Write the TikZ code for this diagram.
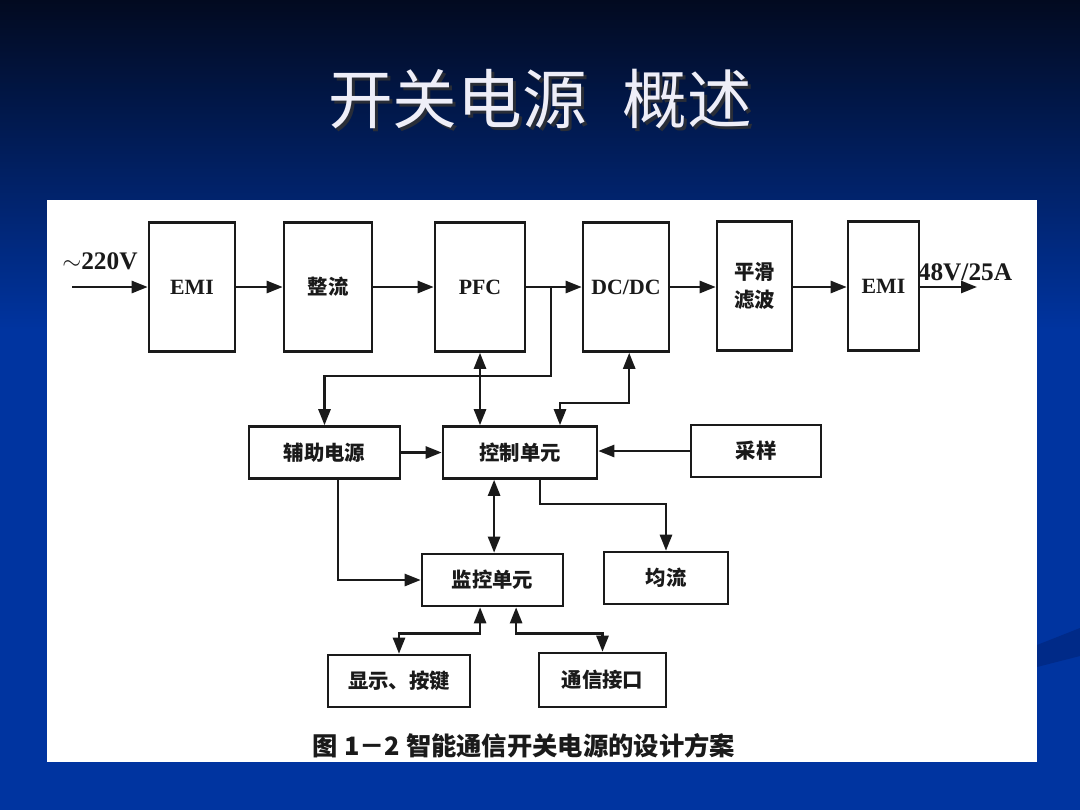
\documentclass[tikz,border=0pt]{standalone}
\usepackage{fontspec}
\setmainfont{Liberation Serif}
\newfontfamily\cjk{Noto Sans CJK SC}
\usetikzlibrary{arrows.meta,calc}
\definecolor{slideblue}{HTML}{0034A0}
\definecolor{slidetop}{HTML}{020A20}
\definecolor{swoosh}{HTML}{002A88}
\definecolor{titlewhite}{HTML}{EEEEF8}
\definecolor{ink}{HTML}{1A1A1A}

\begin{document}
\begin{tikzpicture}[x=0.025cm, y=-0.025cm,
  tall/.style={draw=ink, line width=1.8pt, inner sep=0pt, minimum height=3.225cm, align=center, text=ink, font=\fontsize{15.5}{19}\selectfont\bfseries},
  box/.style={draw=ink, line width=1.8pt, inner sep=0pt, minimum height=1.3cm, text=ink, font=\fontsize{14.5}{18}\selectfont\cjk\bfseries},
  note/.style={inner sep=0pt, text=ink, font=\fontsize{18}{20}\selectfont\bfseries},
  arr/.style={-{Triangle[length=0.4cm,width=0.3cm]}, line width=1.8pt, draw=ink},
  dblarr/.style={{Triangle[length=0.4cm,width=0.3cm]}-{Triangle[length=0.4cm,width=0.3cm]}, line width=1.8pt, draw=ink}
]
\useasboundingbox (0,0) rectangle (1080,810);

% slide background
\shade[top color=slidetop, bottom color=slideblue] (0,0) rectangle (1080,330);
\fill[slideblue] (0,329) rectangle (1080,810);
\fill[swoosh] (1037,645) -- (1080,628) -- (1080,656) -- (1037,667) -- cycle;

% title
\node[text=black!80, opacity=0.8, font=\fontsize{46}{50}\selectfont\cjk] (titleshadow) at (543,102) {开关电源\hspace{0.55em}概述};
\node[text=titlewhite, font=\fontsize{46}{50}\selectfont\cjk] (title) at (540,99) {开关电源\hspace{0.55em}概述};

% white panel
\fill[white] (47,200) rectangle (1037,762);

% top row
\node[tall, minimum width=2.15cm] (emiin) at (192,287) {EMI};
\node[tall, minimum width=2.2cm, font=\fontsize{14.5}{18}\selectfont\cjk\bfseries] (rect) at (328,287) {整流};
\node[tall, minimum width=2.25cm] (pfc) at (480,287) {PFC};
\node[tall, minimum width=2.15cm] (dcdc) at (626,287) {DC/DC};
\node[tall, minimum width=1.875cm, font=\fontsize{14.5}{19.5}\selectfont\cjk\bfseries] (filt) at (754.5,286) {平滑\\滤波};
\node[tall, minimum width=1.775cm] (emiout) at (883.5,286) {EMI};

% lower blocks
\node[box, minimum width=3.775cm] (aux) at (324.5,452.5) {辅助电源};
\node[box, minimum width=3.85cm] (ctrl) at (520,452.5) {控制单元};
\node[box, minimum width=3.25cm] (samp) at (756,451) {采样};
\node[box, minimum width=3.525cm] (mon) at (492.5,580) {监控单元};
\node[box, minimum width=3.1cm] (share) at (666,578) {均流};
\node[box, minimum width=3.55cm] (disp) at (399,681) {显示、按键};
\node[box, minimum width=3.175cm, minimum height=1.35cm] (comm) at (602.5,680) {通信接口};

% input and output
\coordinate (in) at (72,287);
\coordinate (out) at (977,287);
\node[note] (vin) at (100,261) {$\sim$220V};
\node[note] (vout) at (965,272) {48V/25A};

% main path
\draw[arr] (in) -- (emiin.west);
\draw[arr] (emiin.east) -- (rect.west);
\draw[arr] (rect.east) -- (pfc.west);
\draw[arr] (pfc.east) -- (dcdc.west);
\draw[arr] (dcdc.east) -- (dcdc.east -| filt.west);
\draw[arr] (filt.east |- emiin) -- (emiin -| emiout.west);
\draw[arr] (emiout.east |- emiin) -- (out);

% control links
\coordinate (br) at (551,287);
\draw[arr] (br) -- ++(0,89) -| (aux.north);
\draw[dblarr] (pfc.south) -- (pfc.south |- ctrl.north);
\draw[dblarr] ([xshift=0.08cm]dcdc.south) -- ++(0,50) -| ([xshift=1cm]ctrl.north);
\draw[arr] (aux.east) -- (ctrl.west);
\draw[arr] (samp.west) -- (samp.west -| ctrl.east);
\draw[arr] ([xshift=0.34cm]aux.south) |- (mon.west);
\draw[dblarr] ([xshift=0.04cm]mon.north) -- ([xshift=0.04cm]mon.north |- ctrl.south);
\draw[arr] ([xshift=0.5cm]ctrl.south) -- ++(0,24) -| (share.north);
\draw[dblarr] ([xshift=-0.31cm]mon.south) -- ++(0,26) -| (disp.north);
\draw[dblarr] ([xshift=0.59cm]mon.south) -- ++(0,26) -| (comm.north);

% caption
\node[text=ink, inner sep=0pt, font=\fontsize{18}{22}\selectfont\cjk\bfseries] (caption) at (524,746) {图 1－2 智能通信开关电源的设计方案};

\end{tikzpicture}
\end{document}
